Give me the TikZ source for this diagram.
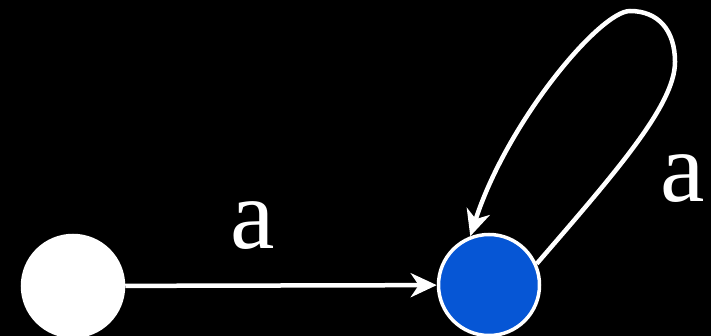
\documentclass[tikz,border=0pt]{standalone}
\usepackage{fontspec}
\setmainfont{Liberation Serif}
\usetikzlibrary{arrows.meta}
\definecolor{stateblue}{RGB}{6,86,213}
\tikzset{
  state/.style={circle, minimum size=101pt, inner sep=0pt, line width=3.5pt, draw=white},
  edge/.style={draw=white, line width=4.5pt, -{Stealth[length=26pt,width=24pt,inset=8pt]}},
  lbl/.style={text=white, font=\fontsize{100}{100}\selectfont, inner sep=0pt}
}
\begin{document}
\begin{tikzpicture}[x=1pt,y=-1pt]
\fill[black] (0,0) rectangle (711,336);
\useasboundingbox (0,0) rectangle (711,336);
\node[state, fill=white] (s0) at (73,286) {};
\node[state, fill=stateblue] (s1) at (489,285) {};
\draw[edge] (s0) -- (s1);
\node[lbl] (la) at (253,226) {a};
\coordinate (lr) at (675,62);
\coordinate (lt) at (630,11);
\draw[edge] (s1.24) .. controls (615,173) and (675,105) .. (lr)
  .. controls (675,30) and (658,11) .. (lt)
  .. controls (600,11) and (507,122) .. (s1.111);
\node[lbl] (lb) at (683,179) {a};
\end{tikzpicture}
\end{document}
